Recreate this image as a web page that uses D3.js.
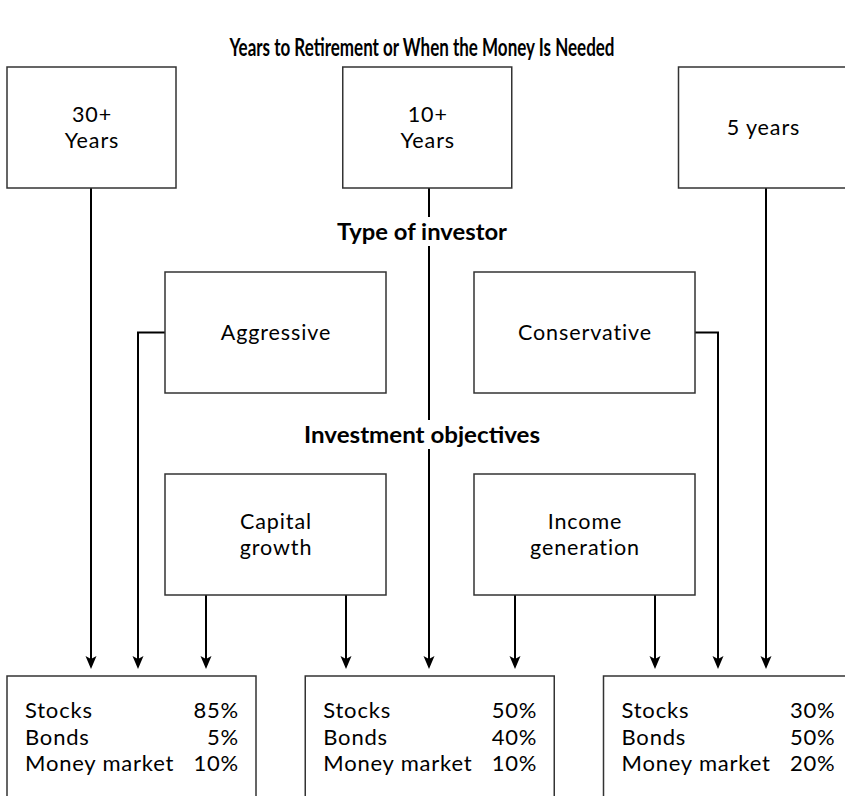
<!DOCTYPE html>
<html>
<head>
<meta charset="utf-8">
<script src="https://cdn.jsdelivr.net/npm/d3@7"></script>
<style>
  body { margin: 0; background: #fff; }
  svg { display: block; font-family: Lato, "Open Sans", sans-serif; }
</style>
</head>
<body>
<div id="chart"></div>
<script>
const title = "Years to Retirement or When the Money Is Needed";
const sectionLabels = ["Type of investor", "Investment objectives"];

const horizons = [["30+", "Years"], ["10+", "Years"], ["5 years"]];
const investorTypes = [["Aggressive"], ["Conservative"]];
const objectives = [["Capital", "growth"], ["Income", "generation"]];

const assetClasses = ["Stocks", "Bonds", "Money market"];
const allocations = [
    [85, 5, 10],
    [50, 40, 10],
    [30, 50, 20]
];

const width = 845, height = 796;

const svg = d3.select("#chart").append("svg")
    .attr("width", width)
    .attr("height", height);

// column positions
const xTop = d3.scalePoint().domain(d3.range(3)).range([91.5, 763]);
const xMid = d3.scalePoint().domain(d3.range(2)).range([275.5, 584.5]);
const xBottom = d3.scalePoint().domain(d3.range(3)).range([131.5, 728]);

const topW = 169, midW = 221, botW = 249;
const topY = 67, boxH = 121;
const typeY = 272, objY = 474, botY = 676;
const tipY = 669;

const lines = svg.append("g").attr("fill", "none").attr("stroke", "#000").attr("stroke-width", 2);
const heads = svg.append("g").attr("fill", "#000");

function arrow(points) {
    const last = points[points.length - 1];
    lines.append("path")
        .attr("d", d3.line()(points.slice(0, -1).concat([[last[0], last[1] - 8]])));
    const x = last[0], y = last[1];
    heads.append("path")
        .attr("d", `M${x - 5.5},${y - 13}L${x},${y}L${x + 5.5},${y - 13}L${x},${y - 10}Z`);
}

// vertical lines from horizon boxes
const topLineX = [91, 429, 766];
topLineX.forEach(x => arrow([[x, topY + boxH], [x, tipY]]));

// investor type connectors
arrow([[xMid(0) - midW / 2, typeY + boxH / 2], [138, typeY + boxH / 2], [138, tipY]]);
arrow([[xMid(1) + midW / 2, typeY + boxH / 2], [718, typeY + boxH / 2], [718, tipY]]);

// objective arrows
[[206, 346], [515, 655]].forEach(xs => xs.forEach(x => arrow([[x, objY + boxH], [x, tipY]])));

// section labels with white backing
const labelY = [240, 443];
sectionLabels.forEach((s, i) => {
    const t = svg.append("text")
        .attr("x", 422)
        .attr("y", labelY[i])
        .attr("text-anchor", "middle")
        .attr("font-size", 22)
        .attr("font-weight", 700)
        .attr("textLength", i === 0 ? 170 : 236)
        .attr("lengthAdjust", "spacingAndGlyphs")
        .text(s);
    const bb = t.node().getBBox();
    svg.insert("rect", "text")
        .attr("x", bb.x - 4).attr("y", bb.y - 1)
        .attr("width", bb.width + 8).attr("height", bb.height + 2)
        .attr("fill", "#fff");
});

// title
svg.append("text")
    .attr("x", 422)
    .attr("y", 56)
    .attr("text-anchor", "middle")
    .attr("font-size", 24)
    .attr("font-weight", 700)
    .attr("textLength", 385)
    .attr("lengthAdjust", "spacingAndGlyphs")
    .text(title);

function box(cx, y, w, labels) {
    const g = svg.append("g");
    g.append("rect")
        .attr("x", cx - w / 2).attr("y", y)
        .attr("width", w).attr("height", boxH)
        .attr("fill", "#fff")
        .attr("stroke", "#333")
        .attr("stroke-width", 1.5);
    const cy = y + boxH / 2;
    const first = cy + 7 - (labels.length - 1) * 13;
    const t = g.append("text")
        .attr("text-anchor", "middle")
        .attr("font-size", 21.5)
        .attr("letter-spacing", 0.9)
        .attr("fill", "#000");
    labels.forEach((l, i) => {
        t.append("tspan")
            .attr("x", cx + 0.5)
            .attr("y", first + i * 26)
            .text(l);
    });
}

horizons.forEach((h, i) => box(xTop(i), topY, topW, h));
investorTypes.forEach((h, i) => box(xMid(i), typeY, midW, h));
objectives.forEach((h, i) => box(xMid(i), objY, midW, h));

// allocation boxes
const rowY = d3.scaleLinear().domain([0, 2]).range([718, 771]);
allocations.forEach((vals, i) => {
    const cx = xBottom(i);
    const g = svg.append("g");
    g.append("rect")
        .attr("x", cx - botW / 2).attr("y", botY)
        .attr("width", botW).attr("height", 160)
        .attr("fill", "#fff")
        .attr("stroke", "#333")
        .attr("stroke-width", 1.5);
    const names = g.append("text")
        .attr("font-size", 22)
        .attr("letter-spacing", 0.8)
        .attr("fill", "#000");
    const pcts = g.append("text")
        .attr("text-anchor", "end")
        .attr("font-size", 22)
        .attr("letter-spacing", 0.8)
        .attr("fill", "#000");
    assetClasses.forEach((a, j) => {
        names.append("tspan")
            .attr("x", cx - botW / 2 + 18)
            .attr("y", rowY(j))
            .text(a);
        pcts.append("tspan")
            .attr("x", cx + botW / 2 - 17)
            .attr("y", rowY(j))
            .text(vals[j] + "%");
    });
});
</script>
</body>
</html>
